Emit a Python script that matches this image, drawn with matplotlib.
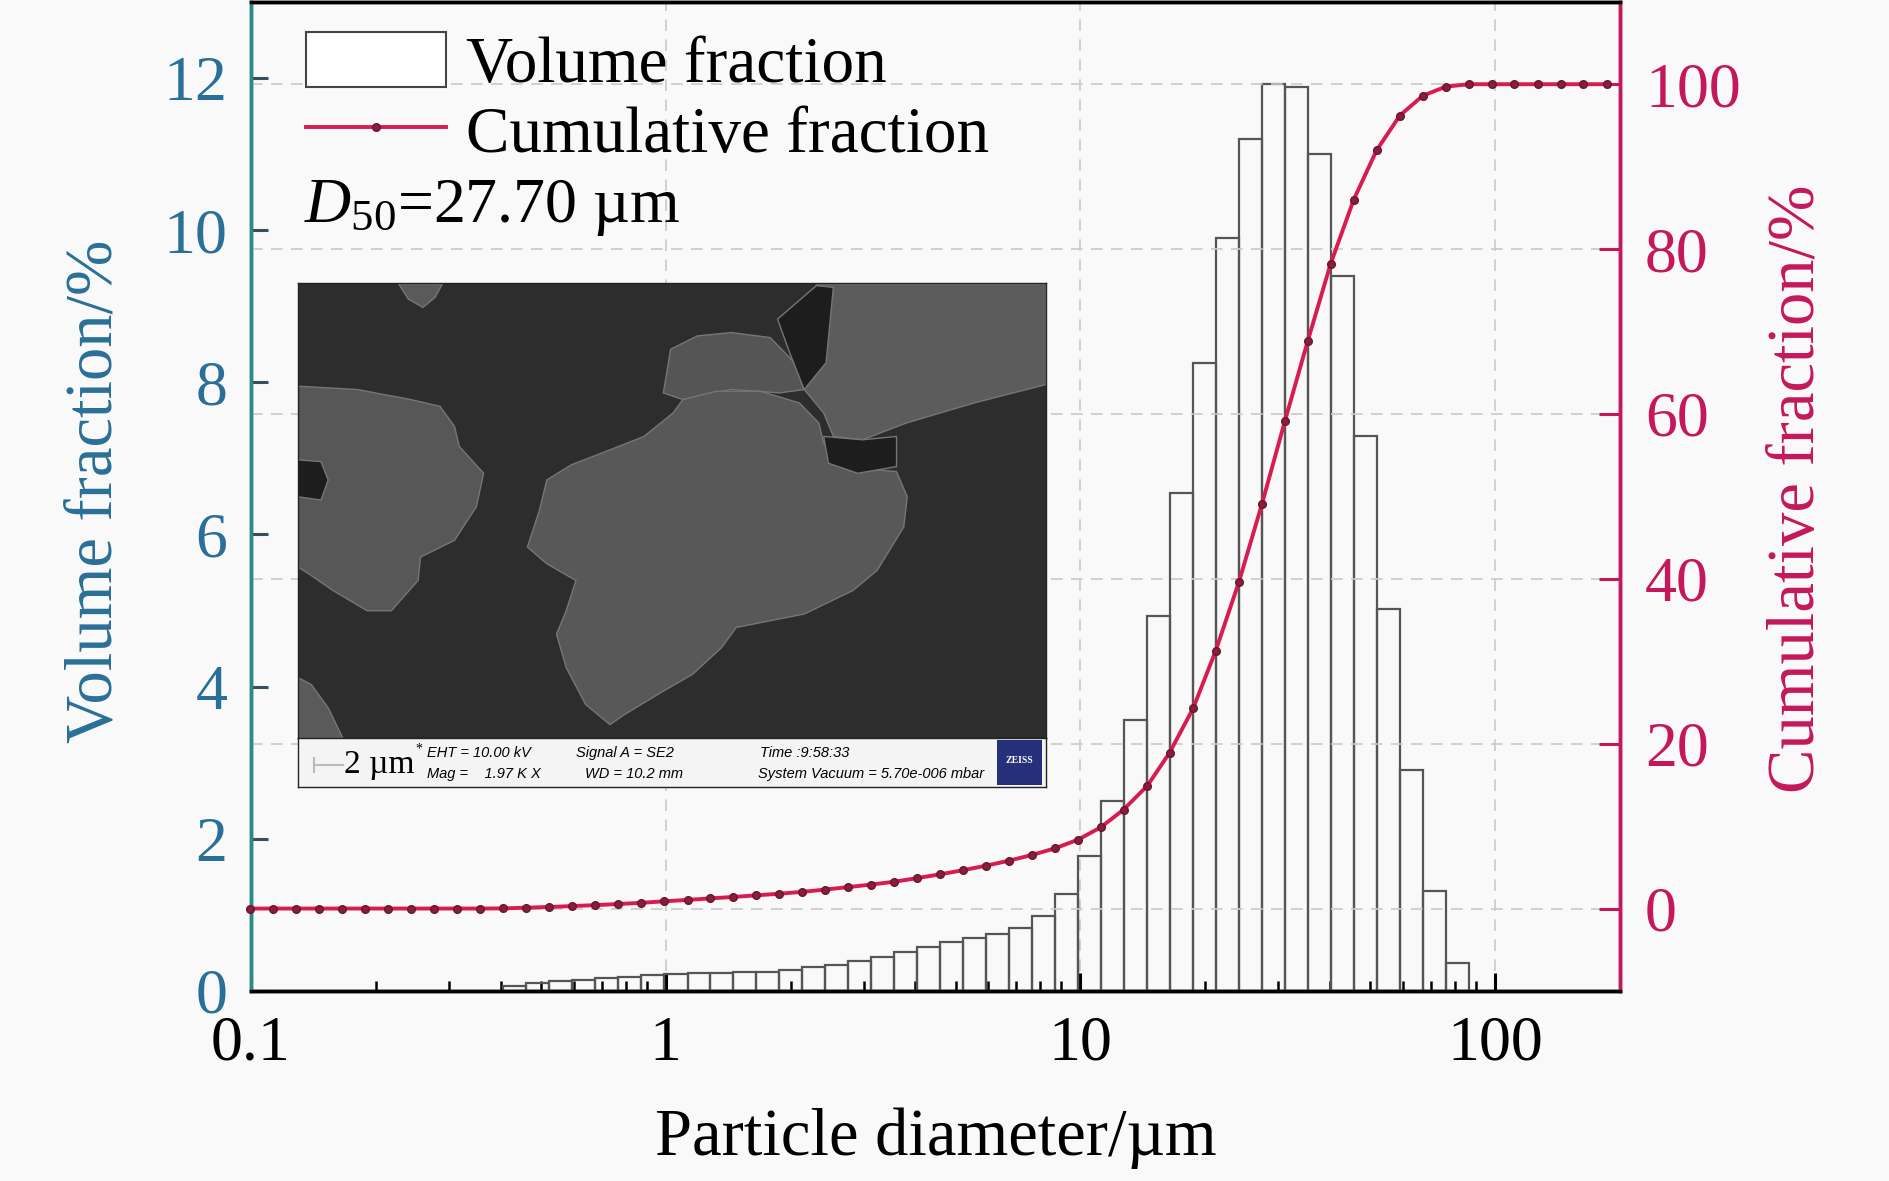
import matplotlib
matplotlib.use("Agg")
import matplotlib.pyplot as plt
import numpy as np
from matplotlib.patches import Polygon, Rectangle
from matplotlib.lines import Line2D
from matplotlib.ticker import LogLocator, NullFormatter

sizes = [0.0995, 0.113, 0.128, 0.146, 0.166, 0.188, 0.214, 0.243, 0.276, 0.314,
         0.357, 0.405, 0.460, 0.523, 0.594, 0.675, 0.767, 0.872, 0.991, 1.13,
         1.28, 1.45, 1.65, 1.88, 2.13, 2.42, 2.75, 3.12, 3.55, 4.03,
         4.58, 5.21, 5.92, 6.72, 7.64, 8.68, 9.86, 11.2, 12.7, 14.5,
         16.4, 18.7, 21.2, 24.1, 27.4, 31.1, 35.3, 40.1, 45.6, 51.8,
         58.9, 66.9, 76.0, 86.4, 98.1, 111, 127, 144, 163, 186]

# volume fraction (%) of each class between sizes[i] and sizes[i+1]
volume = [0, 0, 0, 0, 0, 0, 0, 0, 0, 0, 0,
          0.07, 0.11, 0.13, 0.15, 0.17, 0.19, 0.21, 0.22, 0.23, 0.24,
          0.25, 0.255, 0.28, 0.31, 0.34, 0.39, 0.45, 0.51, 0.58, 0.64,
          0.69, 0.75, 0.83, 0.99, 1.27, 1.77, 2.50, 3.56, 4.93, 6.55,
          8.25, 9.90, 11.20, 11.92, 11.88, 11.00, 9.40, 7.29, 5.02, 2.91,
          1.31, 0.37, 0, 0, 0, 0, 0, 0]

# cumulative fraction (%) at each size
cumulative = [0, 0, 0, 0, 0, 0, 0, 0, 0, 0,
              0, 0.02, 0.1, 0.19, 0.3, 0.41, 0.55, 0.69, 0.88, 1.05,
              1.23, 1.4, 1.6, 1.8, 2.02, 2.3, 2.6, 2.9, 3.25, 3.68,
              4.15, 4.65, 5.2, 5.8, 6.5, 7.3, 8.35, 9.86, 12.0, 14.9,
              18.9, 24.3, 31.3, 39.6, 49.1, 59.1, 68.8, 78.2, 86.0, 92.0,
              96.2, 98.6, 99.7, 100, 100, 100, 100, 100, 100, 100]

x_ticks = [0.1, 1, 10, 100]
x_tick_labels = ["0.1", "1", "10", "100"]
left_ticks = [0, 2, 4, 6, 8, 10, 12]
right_ticks = [0, 20, 40, 60, 80, 100]
d50 = 27.70

plt.rcParams['font.family'] = ['Liberation Serif', 'DejaVu Serif']
plt.rcParams['mathtext.fontset'] = 'custom'
plt.rcParams['mathtext.rm'] = 'Liberation Serif'
plt.rcParams['mathtext.it'] = 'Liberation Serif:italic'

BG = '#f9f9f9'
LEFT_C = '#2a6f97'
SPINE_L = '#2a8a86'
RIGHT_C = '#c4185a'
LINE_C = '#d81b50'
GRID_C = '#cacaca'

fig = plt.figure(figsize=(18.89, 11.81), dpi=100, facecolor=BG)
ax = fig.add_axes([0.1329, 0.1609, 0.7247, 0.8376])
ax.set_facecolor(BG)
ax2 = ax.twinx()

ax.set_xscale('log')
ax.set_xlim(0.1, 200)
ax.set_ylim(0, 13)
ax2.set_ylim(-10, 110)

# histogram bars
edges = np.array(sizes)
vol = np.array(volume)
keep = vol > 0
lo = edges[:-1][keep]
hi = edges[1:][keep]
ax.bar(lo, vol[keep], width=hi - lo, align='edge', fill=False,
       edgecolor='#555555', linewidth=1.6, zorder=3)

# cumulative curve
ax2.plot(sizes, cumulative, color=LINE_C, lw=2.8, marker='o', ms=5.5,
         mfc='#8a1c3c', mec='#6b1530', zorder=4, clip_on=False)

# ticks
ax.set_xticks(x_ticks)
ax.set_xticklabels(x_tick_labels)
ax.xaxis.set_minor_locator(LogLocator(base=10, subs=np.arange(2, 10)))
ax.xaxis.set_minor_formatter(NullFormatter())
ax.tick_params(axis='x', which='major', direction='in', length=13, width=2.2,
               labelsize=46, pad=18, top=False)
ax.tick_params(axis='x', which='minor', direction='in', length=7, width=1.8, top=False)
ax.set_yticks(left_ticks)
ax.tick_params(axis='y', direction='in', length=12, width=2.2, color='#34505a',
               labelcolor=LEFT_C, labelsize=46, pad=17)
ax2.set_yticks(right_ticks)
ax2.tick_params(axis='y', direction='in', length=15, width=2.2, color=RIGHT_C,
                labelcolor=RIGHT_C, labelsize=46, pad=18)

# grid
ax.grid(True, axis='x', which='major', color=GRID_C, linestyle=(0, (7, 5)), linewidth=1.2)
ax2.grid(True, axis='y', color=GRID_C, linestyle=(0, (7, 5)), linewidth=1.2)

for a in (ax, ax2):
    for s in a.spines.values():
        s.set_linewidth(2.5)
    a.spines['left'].set_color(SPINE_L)
    a.spines['right'].set_color(RIGHT_C)
    a.spines['top'].set_color('black')
    a.spines['bottom'].set_color('black')

# labels
ax.set_xlabel('Particle diameter/µm', fontsize=48)
ax.xaxis.set_label_coords(0.5, -0.118)
ax.set_ylabel('Volume fraction/%', fontsize=48, color=LEFT_C, va='center', ha='center')
ax.yaxis.set_label_coords(-0.1140, 0.5056)
ax2.set_ylabel('Cumulative fraction/%', fontsize=48, color=RIGHT_C, va='center',
               ha='center', rotation=90)
ax2.yaxis.set_label_coords(1.129, 0.5076)

# legend
box = Rectangle((0, 0), 1, 1, facecolor='white', edgecolor='#444444', linewidth=1.5)
line = Line2D([], [], color=LINE_C, lw=2.8, marker='o', ms=5.5, mfc='#8a1c3c', mec='#6b1530')
ax2.legend([box, line], ['Volume fraction', 'Cumulative fraction'], loc='upper left',
           bbox_to_anchor=(0.040, 0.969), frameon=False, fontsize=47, handlelength=2.15,
           handleheight=0.9, handletextpad=0.3, labelspacing=0.1, borderpad=0,
           borderaxespad=0)
ax2.text(0.039, 0.777, r'$D_{50}$=' + f'{d50:.2f} µm', transform=ax.transAxes,
         fontsize=46, va='baseline')

# SEM micrograph inset (drawn as a sketch)
sem = fig.add_axes([0.1578, 0.3751, 0.396, 0.3853])
sem.set_facecolor('#2d2d2d')
sem.set_xlim(0, 1)
sem.set_ylim(0, 1)
sem.set_xticks([])
sem.set_yticks([])
for s in sem.spines.values():
    s.set_linewidth(1.0)
    s.set_color('#222222')


def outline(pts):
    return [((x - 8) / 1540, 1 - (y - 12) / 1358) for x, y in pts]


shapes = [
    ([(1075, 15), (1548, 15), (1548, 315), (1400, 370), (1260, 430), (1170, 480),
      (1110, 470), (1090, 400), (1050, 330), (1030, 220), (1045, 120), (1075, 60)], '#5c5c5c'),
    ([(760, 340), (775, 210), (830, 170), (900, 160), (980, 175), (1030, 250),
      (1050, 330), (1000, 340), (900, 330), (800, 360)], '#555555'),
    ([(480, 800), (505, 690), (520, 600), (570, 555), (650, 510), (720, 470), (780, 400),
      (800, 360), (870, 335), (960, 335), (1040, 370), (1080, 430), (1090, 490),
      (1130, 560), (1240, 575), (1262, 650), (1255, 740), (1200, 870), (1150, 930),
      (1050, 1000), (910, 1040), (880, 1100), (820, 1180), (760, 1230), (680, 1300),
      (650, 1330), (600, 1270), (560, 1160), (540, 1060), (560, 990), (580, 900),
      (520, 850)], '#585858'),
    ([(8, 320), (130, 330), (240, 360), (300, 380), (330, 440), (340, 500), (390, 580),
      (375, 680), (330, 780), (260, 830), (255, 900), (200, 990), (150, 990), (80, 930),
      (30, 880), (8, 860)], '#575757'),
    ([(215, 15), (305, 15), (290, 55), (265, 85), (235, 60)], '#5a5a5a'),
    ([(8, 1190), (35, 1210), (70, 1280), (100, 1370), (8, 1370)], '#5a5a5a'),
    ([(1090, 470), (1170, 480), (1240, 470), (1240, 560), (1160, 580), (1100, 550)], '#1d1d1d'),
    ([(995, 120), (1075, 20), (1110, 25), (1095, 250), (1050, 330), (1020, 220)], '#1d1d1d'),
    ([(8, 540), (55, 545), (70, 600), (55, 660), (8, 650)], '#1d1d1d'),
]
for pts, col in shapes:
    sem.add_patch(Polygon(outline(pts), closed=True, facecolor=col,
                          edgecolor='#767676', linewidth=1.0))

info = fig.add_axes([0.1578, 0.3336, 0.396, 0.0415])
info.set_facecolor('#f4f4f4')
info.set_xlim(0, 1)
info.set_ylim(0, 1)
info.set_xticks([])
info.set_yticks([])
for s in info.spines.values():
    s.set_linewidth(1.0)
    s.set_color('#222222')
info.plot([0.021, 0.06], [0.45, 0.45], color='#bbbbbb', lw=1.5)
info.plot([0.021, 0.021], [0.3, 0.6], color='#bbbbbb', lw=1.5)
info.text(0.061, 0.45, '2 µm', fontsize=24, va='center', ha='left')
info.text(0.157, 0.78, '*', fontsize=10, va='center', ha='left')
sans = dict(family='Liberation Sans', style='italic', fontsize=10.5, va='center', ha='left')
info.text(0.172, 0.70, 'EHT = 10.00 kV', **sans)
info.text(0.172, 0.27, 'Mag =    1.97 K X', **sans)
info.text(0.372, 0.70, 'Signal A = SE2', **sans)
info.text(0.383, 0.27, 'WD = 10.2 mm', **sans)
info.text(0.617, 0.70, 'Time :9:58:33', **sans)
info.text(0.615, 0.27, 'System Vacuum = 5.70e-006 mbar', clip_on=True, **sans)
info.add_patch(Rectangle((0.934, 0.05), 0.06, 0.9, facecolor='#26307a', edgecolor='none', zorder=5))
info.text(0.964, 0.55, 'ZEISS', color='white', fontsize=7, fontweight='bold',
          ha='center', va='center', zorder=6)

fig.savefig('out.png', dpi=100, facecolor=BG)
